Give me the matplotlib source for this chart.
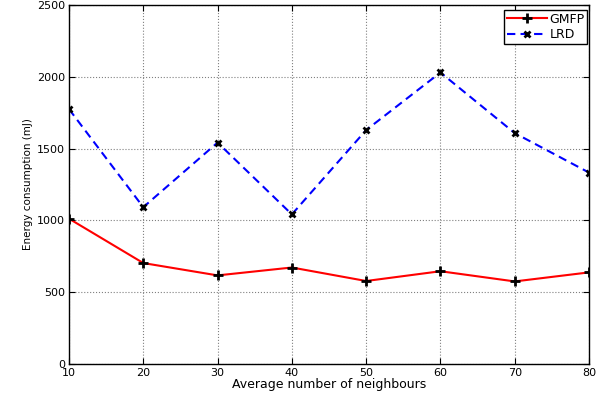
import matplotlib
matplotlib.use('Agg')
import matplotlib.pyplot as plt

neighbours = [10, 20, 30, 40, 50, 60, 70, 80]
gmfp = [1012, 703, 617, 672, 578, 646, 575, 638]
lrd = [1775, 1092, 1542, 1042, 1629, 2030, 1608, 1333]
yticks = [0, 500, 1000, 1500, 2000, 2500]

plt.rcParams['font.family'] = ['DejaVu Sans']

fig = plt.figure(figsize=(6.06, 4.0), dpi=100)
ax = fig.add_axes([69 / 606, 36 / 400, 520 / 606, 359 / 400])

ax.plot(neighbours, gmfp, color='red', linewidth=1.5, marker='+',
        markersize=7, markeredgewidth=2, markeredgecolor='black', label='GMFP')
ax.plot(neighbours, lrd, color='blue', linewidth=1.5, linestyle=(0, (4, 2.5)), marker='x',
        markersize=5, markeredgewidth=2, markeredgecolor='black', label='LRD')

ax.set_xlim(10, 80)
ax.set_ylim(0, 2500)
ax.set_xticks(neighbours)
ax.set_yticks(yticks)
ax.tick_params(direction='in', top=True, right=True, labelsize=8, length=4, pad=3)
ax.grid(True, linestyle=':', color='gray', linewidth=0.8)
for s in ax.spines.values():
    s.set_linewidth(1.0)

ax.set_xlabel('Average number of neighbours', fontsize=9, labelpad=0)
ax.set_ylabel('Energy consumption (mJ)', fontsize=7.5, labelpad=3)

leg = ax.legend(loc='upper right', bbox_to_anchor=(0.996, 0.986), fontsize=9,
                fancybox=False, framealpha=1, edgecolor='black', borderaxespad=0,
                handlelength=3.2, handletextpad=0.2, borderpad=0.2, labelspacing=0.2)
leg.get_frame().set_linewidth(1.0)

fig.savefig('out.png', dpi=100)
